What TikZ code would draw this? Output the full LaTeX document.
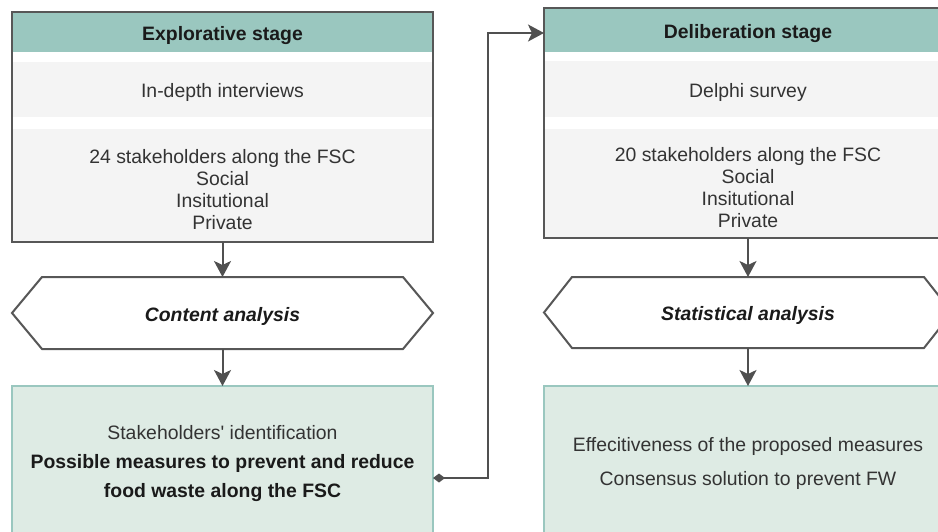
\documentclass[tikz,border=0pt]{standalone}
\usepackage{fontspec}
\setmainfont{Liberation Sans}
\usetikzlibrary{arrows.meta}

\definecolor{stagehead}{HTML}{9AC7BF}
\definecolor{rowgray}{HTML}{F4F4F4}
\definecolor{framegray}{HTML}{575757}
\definecolor{linegray}{HTML}{505050}
\definecolor{outfill}{HTML}{DEEBE4}
\definecolor{txtgray}{HTML}{333333}
\definecolor{txtdark}{HTML}{1A1A1A}

% taller first line so that the labels sit a little lower in their boxes
\newcommand\lowtext{\rule{0pt}{20.5pt}}

\begin{document}
\begin{tikzpicture}[x=1pt, y=-1pt,
  every node/.style={inner sep=0pt, outer sep=0pt},
  headbox/.style={fill=stagehead, text=txtdark,
    font=\bfseries\fontsize{19.4}{22}\selectfont},
  rowbox/.style={fill=rowgray, text=txtgray, align=center,
    font=\fontsize{19.4}{22}\selectfont},
  framebox/.style={draw=framegray, line width=2pt},
  hexbox/.style={text=txtdark, font=\bfseries\itshape\fontsize{19.4}{22}\selectfont},
  hexline/.style={draw=framegray, line width=2pt, line join=miter},
  outbox/.style={fill=outfill, draw=stagehead, line width=2pt, align=center, text=txtgray},
  arr/.style={draw=linegray, line width=2pt,
    -{Stealth[length=16pt, width=17pt, inset=4pt]}},
  conn/.style={draw=linegray, line width=2pt,
    {Diamond[length=12pt, width=9pt]}-{Stealth[length=16pt, width=17pt, inset=4pt]}}
]
\useasboundingbox (0,0) rectangle (938,531);
\clip (0,0) rectangle (938,531);

% ---- Explorative stage ----
\node[headbox, minimum width=421pt, minimum height=40pt] (h1) at (222.5,32) {\lowtext Explorative stage};
\node[rowbox, minimum width=421pt, minimum height=55pt] (r1a) at (222.5,89.5) {\lowtext In-depth interviews};
\node[rowbox, minimum width=421pt, minimum height=114pt] (r1b) at (222.5,186)
  {\lowtext 24 stakeholders along the FSC\\Social\\Insitutional\\Private};
\node[framebox, minimum width=421pt, minimum height=230pt] (f1) at (222.5,127) {};

\node[hexbox, minimum width=421pt, minimum height=72pt] (hx1) at (222.5,313) {\lowtext Content analysis};
\draw[hexline] (hx1.west) -- ([xshift=30pt]hx1.north west) -- ([xshift=-30pt]hx1.north east)
  -- (hx1.east) -- ([xshift=-30pt]hx1.south east) -- ([xshift=30pt]hx1.south west) -- cycle;

\node[outbox, minimum width=421pt, minimum height=148pt,
  font=\fontsize{19.4}{29}\selectfont] (b1) at (222.5,460)
  {\lowtext Stakeholders\textquotesingle{} identification\\
   \textcolor{txtdark}{\bfseries Possible measures to prevent and reduce}\\
   \textcolor{txtdark}{\bfseries food waste along the FSC}};

% ---- Deliberation stage ----
\node[headbox, minimum width=408pt, minimum height=44pt] (h2) at (748,30) {\lowtext Deliberation stage};
\node[rowbox, minimum width=408pt, minimum height=56pt] (r2a) at (748,89) {\lowtext Delphi survey};
\node[rowbox, minimum width=408pt, minimum height=110pt] (r2b) at (748,184)
  {\lowtext 20 stakeholders along the FSC\\Social\\Insitutional\\Private};
\node[framebox, minimum width=408pt, minimum height=230pt] (f2) at (748,123) {};

\node[hexbox, minimum width=408pt, minimum height=71pt] (hx2) at (748,312.5) {\lowtext Statistical analysis};
\draw[hexline] (hx2.west) -- ([xshift=28pt]hx2.north west) -- ([xshift=-28pt]hx2.north east)
  -- (hx2.east) -- ([xshift=-28pt]hx2.south east) -- ([xshift=28pt]hx2.south west) -- cycle;

\node[outbox, minimum width=408pt, minimum height=148pt,
  font=\fontsize{19.4}{34}\selectfont] (b2) at (748,460)
  {\lowtext Effecitiveness of the proposed measures\\Consensus solution to prevent FW};

% ---- connectors ----
\draw[arr] (f1.south) -- (hx1.north);
\draw[arr] (hx1.south) -- (b1.north);
\draw[arr] (f2.south) -- (hx2.north);
\draw[arr] (hx2.south) -- (b2.north);

\coordinate (j1) at (488,33);
\draw[conn] ([yshift=-18pt]b1.east) -| (j1) -- (j1 -| f2.west);
\end{tikzpicture}
\end{document}
